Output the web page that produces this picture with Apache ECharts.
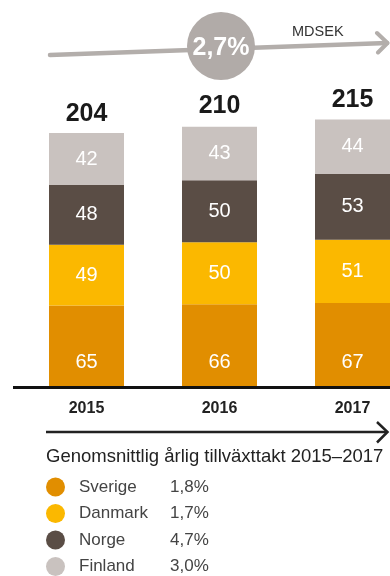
<!DOCTYPE html>
<html><head><meta charset="utf-8">
<style>html,body{margin:0;padding:0;background:#fff}#c{width:390px;height:576px}</style>
<script src="https://cdn.jsdelivr.net/npm/echarts@6/dist/echarts.min.js"></script>
</head><body><div id="c"></div>
<script>
var years = ['2015', '2016', '2017'];
var sverige = [65, 66, 67];
var danmark = [49, 50, 51];
var norge = [48, 50, 53];
var finland = [42, 43, 44];
var totals = [204, 210, 215];
var growth = { Sverige: '1,8%', Danmark: '1,7%', Norge: '4,7%', Finland: '3,0%' };
var cagrTotal = '2,7%';
var unit = 'MDSEK';
var legendTitle = 'Genomsnittlig årlig tillväxttakt 2015–2017';

var FONT = '"Liberation Sans", Arial, Helvetica, sans-serif';
var colors = { Sverige: '#e18e00', Danmark: '#fbb800', Norge: '#5a4d45', Finland: '#c9c2bf' };

function seg(name, data, extraLabel) {
  var lbl = { show: true, position: 'inside', color: '#fff', fontSize: 20, fontFamily: FONT };
  if (extraLabel) for (var k in extraLabel) lbl[k] = extraLabel[k];
  return { name: name, type: 'bar', stack: 't', data: data, barWidth: 75,
    itemStyle: { color: colors[name] }, label: lbl, emphasis: { disabled: true } };
}

var chart = echarts.init(document.getElementById('c'), null, { renderer: 'canvas' });
chart.setOption({
  animation: false,
  textStyle: { fontFamily: FONT },
  grid: { left: 20, width: 399, top: 76, bottom: 190, containLabel: false, outerBoundsMode: 'none' },
  xAxis: { type: 'category', data: years,
    axisLine: { show: false }, axisTick: { show: false },
    axisLabel: { margin: 15, fontSize: 16, fontWeight: 'bold', color: '#222', fontFamily: FONT } },
  yAxis: { type: 'value', min: 0, max: 250, show: false, splitLine: { show: false } },
  legend: {
    orient: 'vertical', left: 46, top: 477.5, height: 120, padding: 0, itemGap: 7.5, itemWidth: 19, itemHeight: 19,
    icon: 'circle', selectedMode: false,
    data: ['Sverige', 'Danmark', 'Norge', 'Finland'],
    formatter: function (n) { return '{n|' + n + '}{p|' + growth[n] + '}'; },
    textStyle: { fontFamily: FONT, rich: {
      n: { fontSize: 17, color: '#444', width: 91, padding: [0, 0, 0, 9], lineHeight: 19, fontFamily: FONT },
      p: { fontSize: 17, color: '#444', lineHeight: 19, fontFamily: FONT } } }
  },
  series: [
    seg('Sverige', sverige, { position: 'insideBottom', distance: 14 }),
    seg('Danmark', danmark),
    seg('Norge', norge),
    seg('Finland', finland),
    { name: 'Total', type: 'line', data: totals, symbol: 'circle', symbolSize: 1, showSymbol: true,
      itemStyle: { color: 'rgba(0,0,0,0)' }, lineStyle: { width: 0, color: 'rgba(0,0,0,0)' },
      silent: true, z: 5,
      label: { show: true, position: 'top', distance: 6, fontSize: 25, fontWeight: 'bold',
        color: '#1a1a1a', fontFamily: FONT } }
  ],
  graphic: [
    { type: 'line', shape: { x1: 13, y1: 387.5, x2: 390, y2: 387.5 }, style: { stroke: '#111', lineWidth: 3 }, z: 10 },
    { type: 'line', shape: { x1: 50, y1: 55, x2: 387, y2: 43 }, style: { stroke: '#b3aeab', lineWidth: 4.5, lineCap: 'round' } },
    { type: 'polyline', shape: { points: [[377, 33], [387.5, 43], [378, 52.5]] }, style: { stroke: '#b3aeab', lineWidth: 4, fill: null, lineCap: 'round', lineJoin: 'round' } },
    { type: 'circle', shape: { cx: 221, cy: 46, r: 34 }, style: { fill: '#b1aba8' } },
    { type: 'text', x: 221, y: 48, style: { text: cagrTotal, fill: '#fff', font: 'bold 25px ' + FONT, align: 'center', verticalAlign: 'middle' } },
    { type: 'text', x: 292, y: 32, style: { text: unit, fill: '#333', font: '14.5px ' + FONT, align: 'left', verticalAlign: 'middle' } },
    { type: 'line', shape: { x1: 46, y1: 432, x2: 387, y2: 432 }, style: { stroke: '#222', lineWidth: 2.5 } },
    { type: 'polyline', shape: { points: [[377, 422], [387.5, 432], [377, 442.5]] }, style: { stroke: '#222', lineWidth: 2.5, fill: null } },
    { type: 'text', x: 46, y: 457, style: { text: legendTitle, fill: '#222', font: '18.5px ' + FONT, align: 'left', verticalAlign: 'middle' } }
  ]
});
</script></body></html>
